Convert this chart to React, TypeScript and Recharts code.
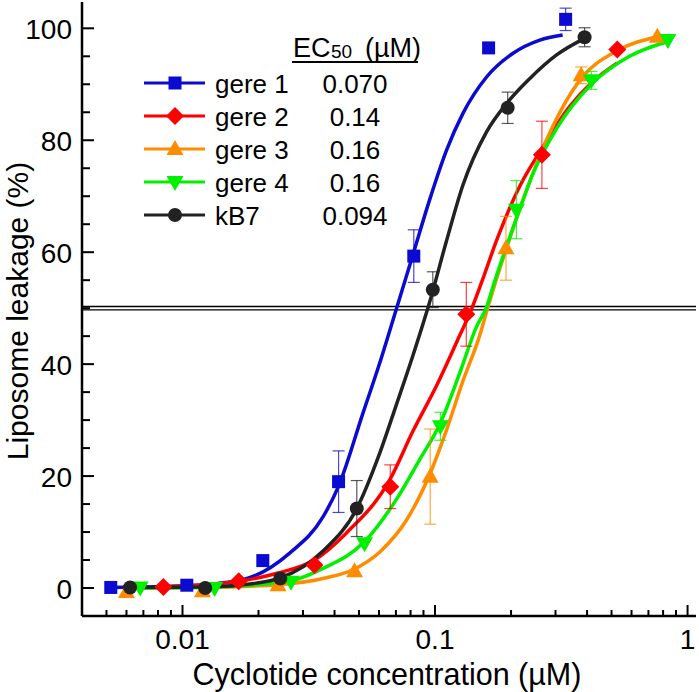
import React from "react";
import { ComposedChart, Line, Scatter, XAxis, YAxis, ErrorBar, ReferenceLine } from "recharts";

const FONT = "'Liberation Sans', Arial, sans-serif";

const xTicks = [0.005, 0.006, 0.007, 0.008, 0.009, 0.01, 0.02, 0.03, 0.04, 0.05, 0.06, 0.07, 0.08, 0.09, 0.1, 0.2, 0.3, 0.4, 0.5, 0.6, 0.7, 0.8, 0.9, 1];
const xLabels = [0.01, 0.1, 1];
const yTicks = [0, 5, 10, 15, 20, 25, 30, 35, 40, 45, 50, 55, 60, 65, 70, 75, 80, 85, 90, 95, 100];
const yLabels = [0, 20, 40, 60, 80, 100];

// measured points (mean +/- error)
const gere1Points = [
  { x: 0.0052, y: 0.1, err: 0 },
  { x: 0.0104, y: 0.5, err: 0 },
  { x: 0.0208, y: 4.9, err: 0 },
  { x: 0.0415, y: 19.0, err: 5.5 },
  { x: 0.0824, y: 59.3, err: 4.7 },
  { x: 0.163, y: 96.5, err: 0 },
  { x: 0.329, y: 101.6, err: 2 },
];
const gere2Points = [
  { x: 0.0084, y: 0.2, err: 0 },
  { x: 0.0167, y: 1.2, err: 0 },
  { x: 0.0333, y: 4.1, err: 0 },
  { x: 0.0665, y: 18.1, err: 3.9 },
  { x: 0.133, y: 48.9, err: 5.7 },
  { x: 0.265, y: 77.4, err: 6 },
  { x: 0.527, y: 96.2, err: 0 },
];
const gere3Points = [
  { x: 0.006, y: -0.7, err: 0 },
  { x: 0.012, y: -0.6, err: 0 },
  { x: 0.0239, y: 0.5, err: 0 },
  { x: 0.048, y: 3.0, err: 0 },
  { x: 0.0957, y: 19.9, err: 8.5 },
  { x: 0.191, y: 60.7, err: 5.7 },
  { x: 0.379, y: 91.6, err: 1.5 },
  { x: 0.759, y: 98.5, err: 0 },
];
const gere4Points = [
  { x: 0.0068, y: 0.1, err: 0 },
  { x: 0.0134, y: 0, err: 0 },
  { x: 0.0269, y: 1.1, err: 0 },
  { x: 0.0526, y: 8.0, err: 0 },
  { x: 0.105, y: 28.9, err: 2.5 },
  { x: 0.21, y: 67.6, err: 5.2 },
  { x: 0.416, y: 90.7, err: 1.6 },
  { x: 0.836, y: 97.9, err: 0 },
];
const kb7Points = [
  { x: 0.0062, y: 0.1, err: 0 },
  { x: 0.0123, y: 0, err: 0 },
  { x: 0.0244, y: 1.7, err: 0 },
  { x: 0.049, y: 14.2, err: 5 },
  { x: 0.098, y: 53.3, err: 3.2 },
  { x: 0.194, y: 85.8, err: 2.8 },
  { x: 0.391, y: 98.4, err: 1.7 },
];

// fitted curves
const gere1Fit = [
  { x: 0.0052, y: 0.1 }, { x: 0.0104, y: 0.4 }, { x: 0.0173, y: 1.5 }, { x: 0.0265, y: 6.2 },
  { x: 0.036, y: 12.7 }, { x: 0.0415, y: 18.2 }, { x: 0.0518, y: 31.2 }, { x: 0.0603, y: 40.1 },
  { x: 0.07, y: 49.6 }, { x: 0.0817, y: 59.5 }, { x: 0.0951, y: 69.3 }, { x: 0.111, y: 78.2 },
  { x: 0.129, y: 84.8 }, { x: 0.16, y: 91.3 }, { x: 0.203, y: 95.5 }, { x: 0.26, y: 97.9 },
  { x: 0.32, y: 98.8 },
];
const gere2Fit = [
  { x: 0.0084, y: 0.2 }, { x: 0.0167, y: 1.2 }, { x: 0.0235, y: 2.6 }, { x: 0.0333, y: 5 },
  { x: 0.0445, y: 9.8 }, { x: 0.0665, y: 19.5 }, { x: 0.0817, y: 28 }, { x: 0.101, y: 36 },
  { x: 0.122, y: 44 }, { x: 0.14, y: 50 }, { x: 0.154, y: 55 }, { x: 0.175, y: 62 },
  { x: 0.216, y: 71.7 }, { x: 0.265, y: 78.5 }, { x: 0.341, y: 86 }, { x: 0.422, y: 90.5 },
  { x: 0.527, y: 93.8 },
];
const gere3Fit = [
  { x: 0.006, y: 0 }, { x: 0.012, y: 0.1 }, { x: 0.0239, y: 0.6 }, { x: 0.036, y: 1.7 },
  { x: 0.048, y: 3.4 }, { x: 0.0603, y: 6.4 }, { x: 0.077, y: 12.1 }, { x: 0.0957, y: 20.5 },
  { x: 0.111, y: 28.2 }, { x: 0.129, y: 37 }, { x: 0.15, y: 45 }, { x: 0.162, y: 50.2 },
  { x: 0.191, y: 60.5 }, { x: 0.223, y: 69.3 }, { x: 0.276, y: 80 }, { x: 0.379, y: 91 },
  { x: 0.527, y: 96 }, { x: 0.759, y: 98.5 },
];
const gere4Fit = [
  { x: 0.0068, y: 0 }, { x: 0.0134, y: 0.2 }, { x: 0.0269, y: 1.3 }, { x: 0.036, y: 3.5 },
  { x: 0.0526, y: 8.3 }, { x: 0.07, y: 15.7 }, { x: 0.0868, y: 22.9 }, { x: 0.105, y: 29.5 },
  { x: 0.125, y: 38.3 }, { x: 0.146, y: 46.7 }, { x: 0.16, y: 50.2 }, { x: 0.17, y: 54 },
  { x: 0.21, y: 66 }, { x: 0.244, y: 74 }, { x: 0.302, y: 82 }, { x: 0.416, y: 90 },
  { x: 0.589, y: 95 }, { x: 0.83, y: 97.6 },
];
const kb7Fit = [
  { x: 0.0062, y: 0.1 }, { x: 0.0123, y: 0.2 }, { x: 0.0167, y: 0.5 }, { x: 0.0244, y: 1.8 },
  { x: 0.036, y: 6.6 }, { x: 0.049, y: 14.2 }, { x: 0.0603, y: 24 }, { x: 0.07, y: 32.5 },
  { x: 0.0817, y: 41.5 }, { x: 0.0951, y: 51 }, { x: 0.111, y: 62 }, { x: 0.129, y: 72 },
  { x: 0.16, y: 81.5 }, { x: 0.194, y: 86.8 }, { x: 0.237, y: 91 }, { x: 0.302, y: 95.2 },
  { x: 0.391, y: 98.2 },
];

const seriesNames = ["gere 1", "gere 2", "gere 3", "gere 4", "kB7"];
const ec50Values = ["0.070", "0.14", "0.16", "0.16", "0.094"];

const series = [
  { name: seriesNames[0], ec50: ec50Values[0], color: "#0A0AD0", kind: "square", points: gere1Points, fit: gere1Fit },
  { name: seriesNames[1], ec50: ec50Values[1], color: "#FF0000", kind: "diamond", points: gere2Points, fit: gere2Fit },
  { name: seriesNames[2], ec50: ec50Values[2], color: "#FF8C00", kind: "triangle", points: gere3Points, fit: gere3Fit },
  { name: seriesNames[3], ec50: ec50Values[3], color: "#00F000", kind: "down", points: gere4Points, fit: gere4Fit },
  { name: seriesNames[4], ec50: ec50Values[4], color: "#222222", kind: "circle", points: kb7Points, fit: kb7Fit },
];

function Marker({ kind, cx, cy, color }: { kind: string; cx: number; cy: number; color: string }) {
  if (cx == null || cy == null) return null;
  if (kind === "square") return <rect x={cx - 6.5} y={cy - 6.5} width={13} height={13} fill={color} />;
  if (kind === "diamond")
    return <polygon points={`${cx},${cy - 9} ${cx + 9},${cy} ${cx},${cy + 9} ${cx - 9},${cy}`} fill={color} />;
  if (kind === "triangle")
    return <polygon points={`${cx},${cy - 9} ${cx + 8.5},${cy + 6} ${cx - 8.5},${cy + 6}`} fill={color} />;
  if (kind === "down")
    return <polygon points={`${cx},${cy + 9} ${cx + 8.5},${cy - 6} ${cx - 8.5},${cy - 6}`} fill={color} />;
  return <circle cx={cx} cy={cy} r={7} fill={color} />;
}

function BottomTick({ x, y, payload }: any) {
  const major = xLabels.includes(payload.value);
  return (
    <g>
      <line x1={x} x2={x} y1={y} y2={y - (major ? 11 : 6)} stroke="#000" strokeWidth={2} />
      {major && (
        <text x={x} y={y + 33} textAnchor="middle" fontSize={28} fontFamily={FONT} fill="#000">
          {payload.value}
        </text>
      )}
    </g>
  );
}

function TopTick({ x, y, payload }: any) {
  const major = xLabels.includes(payload.value);
  return <line x1={x} x2={x} y1={y} y2={y + (major ? 11 : 6)} stroke="#000" strokeWidth={2} />;
}

function LeftTick({ x, y, payload }: any) {
  const major = yLabels.includes(payload.value);
  return (
    <g>
      <line x1={x} x2={x + (major ? 12 : 8)} y1={y} y2={y} stroke="#000" strokeWidth={2} />
      {major && (
        <text x={x - 10} y={y + 11} textAnchor="end" fontSize={28} fontFamily={FONT} fill="#000">
          {payload.value}
        </text>
      )}
    </g>
  );
}

function RightTick({ x, y, payload }: any) {
  const major = yLabels.includes(payload.value);
  return <line x1={x} x2={x - (major ? 12 : 8)} y1={y} y2={y} stroke="#000" strokeWidth={2} />;
}

function Overlay() {
  const rows = [83, 116, 149, 182, 215];
  return (
    <svg width={699} height={692} style={{ position: "absolute", left: 0, top: 0, pointerEvents: "none" }}>
      <text x={293} y={57} fontSize={27} fontFamily={FONT} fill="#000">EC</text>
      <text x={331} y={58} fontSize={19} fontFamily={FONT} fill="#000">50</text>
      <text x={365} y={57} fontSize={27} fontFamily={FONT} fill="#000">(µM)</text>
      <line x1={292} x2={418} y1={62} y2={62} stroke="#000" strokeWidth={2} />
      {series.map((s, i) => (
        <g key={s.name}>
          <line x1={144} x2={205} y1={rows[i]} y2={rows[i]} stroke={s.color} strokeWidth={3} />
          <Marker kind={s.kind} cx={175} cy={rows[i]} color={s.color} />
          <text x={215} y={rows[i] + 10} fontSize={26} fontFamily={FONT} fill="#000">{s.name}</text>
          <text x={355} y={rows[i] + 10} fontSize={26} fontFamily={FONT} fill="#000" textAnchor="middle">{s.ec50}</text>
        </g>
      ))}
      <text x={28} y={311} fontSize={30} fontFamily={FONT} fill="#000" textAnchor="middle" transform="rotate(-90 28 311)">
        Liposome leakage (%)
      </text>
      <text x={387} y={685} fontSize={30.5} fontFamily={FONT} fill="#000" textAnchor="middle">
        Cyclotide concentration (µM)
      </text>
    </svg>
  );
}

export default function App() {
  return (
    <div style={{ position: "absolute", left: 0, top: 0, width: 699, height: 692, background: "#fff" }}>
      <ComposedChart width={699} height={692} margin={{ top: 2, right: 3, left: 0, bottom: 0 }}>
        <XAxis xAxisId="bottom" dataKey="x" type="number" scale="log" domain={[0.004, 1.08]} allowDataOverflow
          ticks={xTicks} interval={0} tickSize={0} tickMargin={0} height={76}
          axisLine={{ stroke: "#000", strokeWidth: 2.5 }} tickLine={false} tick={<BottomTick />} />
        <XAxis xAxisId="top" orientation="top" dataKey="x" type="number" scale="log" domain={[0.004, 1.08]} allowDataOverflow
          ticks={xTicks} interval={0} tickSize={0} tickMargin={0} height={0}
          axisLine={{ stroke: "#000", strokeWidth: 2.5 }} tickLine={false} tick={<TopTick />} />
        <YAxis yAxisId="left" dataKey="y" type="number" domain={[-5, 104.7]} allowDataOverflow
          ticks={yTicks} interval={0} tickSize={0} tickMargin={0} width={82}
          axisLine={{ stroke: "#000", strokeWidth: 2.5 }} tickLine={false} tick={<LeftTick />} />
        <YAxis yAxisId="right" orientation="right" dataKey="y" type="number" domain={[-5, 104.7]} allowDataOverflow
          ticks={yTicks} interval={0} tickSize={0} tickMargin={0} width={0}
          axisLine={{ stroke: "#000", strokeWidth: 2.5 }} tickLine={false} tick={<RightTick />} />
        <ReferenceLine xAxisId="bottom" yAxisId="left" y={49.7} stroke="#000" strokeWidth={1.3} />
        <ReferenceLine xAxisId="bottom" yAxisId="left" y={50.3} stroke="#000" strokeWidth={1.3} />
        {series.map((s) => (
          <Line key={"fit-" + s.name} xAxisId="bottom" yAxisId="left" data={s.fit} dataKey="y" type="monotone"
            stroke={s.color} strokeWidth={3.5} dot={false} activeDot={false} isAnimationActive={false} />
        ))}
        {series.map((s) => (
          <Scatter key={"pts-" + s.name} xAxisId="bottom" yAxisId="left" data={s.points} dataKey="y"
            isAnimationActive={false}
            shape={(p: any) => <Marker kind={s.kind} cx={p.cx} cy={p.cy} color={s.color} />}>
            <ErrorBar dataKey="err" direction="y" width={6} stroke={s.color} strokeWidth={1.2} strokeOpacity={0.75} />
          </Scatter>
        ))}
      </ComposedChart>
      <Overlay />
    </div>
  );
}
